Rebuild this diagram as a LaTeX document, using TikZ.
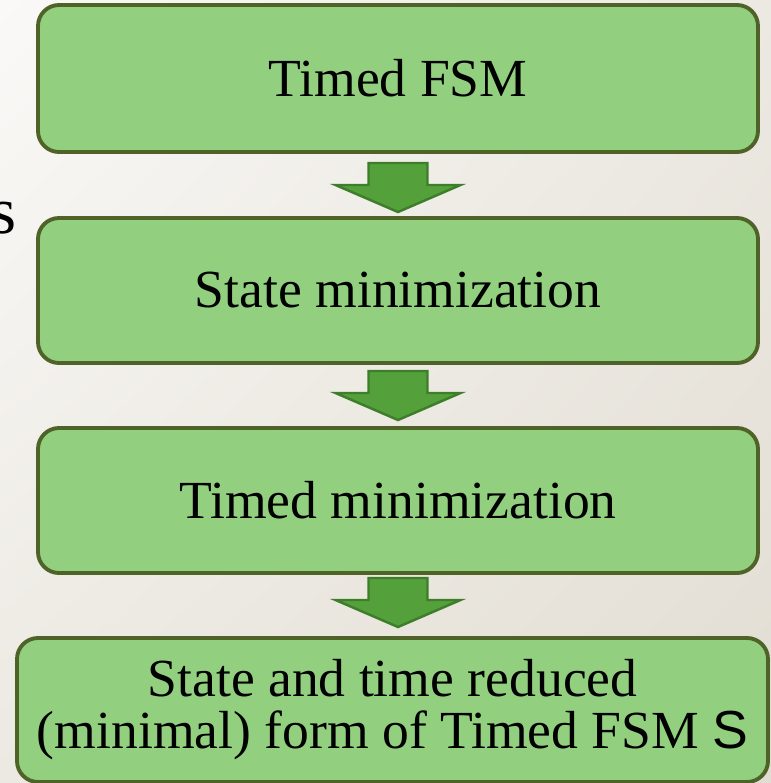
\documentclass[tikz,border=0pt]{standalone}
\usepackage{fontspec}
\setmainfont{Liberation Serif}
\newfontfamily\sansS{Liberation Sans}
\usepackage{xcolor}
\usetikzlibrary{positioning,shadings}

\definecolor{boxfill}{RGB}{146,208,128}
\definecolor{boxline}{RGB}{79,98,40}
\definecolor{arrfill}{RGB}{84,161,59}
\definecolor{arrline}{RGB}{62,125,42}
\definecolor{bgdark}{RGB}{226,221,211}
\definecolor{bgmid}{RGB}{236,233,226}
\definecolor{bglight}{RGB}{250,249,247}

\tikzset{
  stepbox/.style={draw=boxline, fill=boxfill, line width=2.2pt, rounded corners=0.42cm,
    minimum width=14.4cm, minimum height=2.9cm, inner sep=2pt, align=center,
    font=\fontsize{30.5}{29.5}\selectfont},
  flowarrow/.style={draw=arrline, fill=arrfill, line width=1.4pt, line join=miter}
}

% block arrow pointing down, top centre at #1
\newcommand{\flowdown}[1]{
  \draw[flowarrow] (#1) ++(-0.59,0) -- ++(1.18,0) -- ++(0,-0.44) -- ++(0.66,0)
    -- ++(-1.25,-0.54) -- ++(-1.25,0.54) -- ++(0.66,0) -- cycle;
}

\begin{document}
\begin{tikzpicture}
    %background
    \useasboundingbox (0,0) rectangle (15.42,-15.66);
    \clip (0,0) rectangle (15.42,-15.66);
    \shade[upper left=bglight, upper right=bgmid, lower left=bgmid, lower right=bgdark]
      (0,0) rectangle (15.42,-15.66);
    %cut off text on the left
    \node[anchor=base east, inner sep=0pt, font=\fontsize{38}{38}\selectfont] (cut) at (0.33,-4.66) {s};
    %steps
    \node[stepbox, minimum height=2.94cm] (tfsm) at (7.96,-1.57) {Timed FSM};
    \node[stepbox] (statemin) at (7.96,-5.81) {State minimization};
    \node[stepbox] (timemin) at (7.96,-10.01) {Timed minimization};
    \node[stepbox, minimum width=15.02cm, minimum height=2.88cm] (reduced) at (7.85,-14.2)
      {State and time reduced\\(minimal) form of Timed FSM {\sansS S}};
    %arrows
    \coordinate (a1) at (7.96,-3.26);
    \coordinate (a2) at (7.96,-7.42);
    \coordinate (a3) at (7.96,-11.56);
    \flowdown{a1}
    \flowdown{a2}
    \flowdown{a3}
\end{tikzpicture}
\end{document}
